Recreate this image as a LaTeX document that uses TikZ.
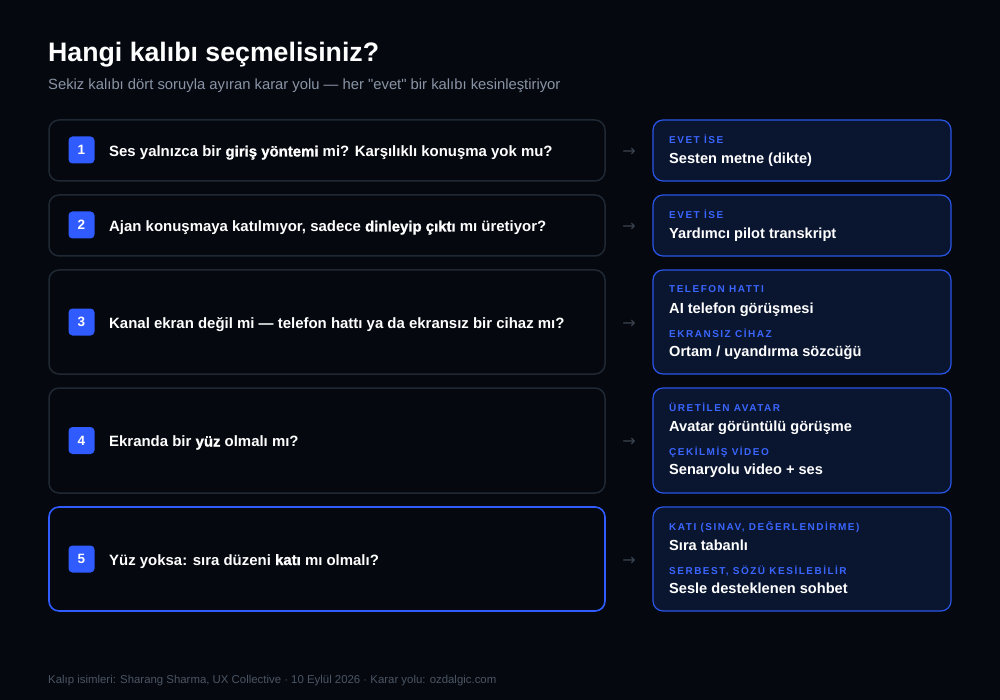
\documentclass[tikz,border=0pt]{standalone}
\usepackage{fontspec}
\setmainfont{Liberation Sans}[Ligatures=TeXOff]
\newfontfamily\heavy{Liberation Sans}[UprightFont={* Bold},FakeBold=1.3]
\newfontfamily\lbl{Liberation Sans}[UprightFont={* Bold},LetterSpace=15]
\newfontfamily\arrowfont{DejaVu Sans}
\definecolor{bg}{HTML}{05090F}
\definecolor{qborder}{HTML}{1F2833}
\definecolor{blue}{HTML}{2F5BFF}
\definecolor{rfill}{HTML}{0A1530}
\definecolor{rborder}{HTML}{2A55E8}
\definecolor{lblc}{HTML}{3A66FF}
\definecolor{subc}{HTML}{8A94A6}
\definecolor{footc}{HTML}{4B5563}
\definecolor{arrc}{HTML}{3A4350}
\tikzset{
  qbox/.style={draw=qborder,line width=1.5pt,fill=bg,rounded corners=10pt},
  qboxhi/.style={draw=blue,line width=1.6pt,fill=bg,rounded corners=10pt},
  rbox/.style={draw=rborder,line width=1.2pt,fill=rfill,rounded corners=10pt},
  badge/.style={fill=blue,rounded corners=4pt,minimum width=26pt,minimum height=27pt,inner sep=0pt,text=white,font=\bfseries\fontsize{13.5}{13.5}\selectfont},
  qtext/.style={anchor=base west,inner sep=0pt,text=white,font=\bfseries\fontsize{14.95}{16}\selectfont},
  ltext/.style={anchor=base west,inner sep=0pt,text=lblc,font=\lbl\fontsize{10}{10}\selectfont},
  mtext/.style={anchor=base west,inner sep=0pt,text=white,font=\bfseries\fontsize{14.6}{16}\selectfont},
  arr/.style={inner sep=0pt,text=arrc,font=\arrowfont\fontsize{16}{16}\selectfont}
}
\newcommand{\hv}[1]{{\heavy #1}}
\begin{document}
\begin{tikzpicture}[x=1pt,y=-1pt]
\fill[bg] (0,0) rectangle (1000,700);
\useasboundingbox (0,0) rectangle (1000,700);
% title
\node[anchor=base west,inner sep=0pt,text=white,font=\bfseries\fontsize{26.7}{28}\selectfont] (title) at (48,62) {Hangi kalıbı seçmelisiniz?};
\node[anchor=base west,inner sep=0pt,text=subc,font=\fontsize{14.8}{16}\selectfont] (sub) at (48,90) {Sekiz kalıbı dört soruyla ayıran karar yolu — her "evet" bir kalıbı kesinleştiriyor};
% question boxes
\path[qbox] (49,120) rectangle (605,181);
\path[qbox] (49,195) rectangle (605,256);
\path[qbox] (49,270) rectangle (605,374);
\path[qbox] (49,388) rectangle (605,493);
\path[qboxhi] (49,507) rectangle (605,611);
% answer boxes
\path[rbox] (653,120) rectangle (951,181);
\path[rbox] (653,195) rectangle (951,256);
\path[rbox] (653,270) rectangle (951,374);
\path[rbox] (653,388) rectangle (951,493);
\path[rbox] (653,507) rectangle (951,611);
% badges
\node[badge] (b1) at (81.5,150) {1};
\node[badge] (b2) at (81.5,225) {2};
\node[badge] (b3) at (81.5,322) {3};
\node[badge] (b4) at (81.5,440.5) {4};
\node[badge] (b5) at (81.5,559) {5};
% questions
\node[qtext] (q1) at (109,156.5) {Ses yalnızca bir \hv{giriş yöntemi} mi? Karşılıklı konuşma yok mu?};
\node[qtext] (q2) at (109,231.5) {Ajan konuşmaya katılmıyor, sadece \hv{dinleyip çıktı} mı üretiyor?};
\node[qtext] (q3) at (109,328.5) {Kanal ekran değil mi — telefon hattı ya da ekransız bir cihaz mı?};
\node[qtext] (q4) at (109,446.5) {Ekranda bir \hv{yüz} olmalı mı?};
\node[qtext] (q5) at (109,565) {Yüz yoksa: sıra düzeni \hv{katı} mı olmalı?};
% arrows
\node[arr] (a1) at (629,152) {→};
\node[arr] (a2) at (629,227) {→};
\node[arr] (a3) at (629,324.5) {→};
\node[arr] (a4) at (629,442.5) {→};
\node[arr] (a5) at (629,561) {→};
% answers
\node[ltext] (l1) at (669,143.3) {EVET İSE};
\node[mtext] (m1) at (669,163.5) {Sesten metne (dikte)};
\node[ltext] (l2) at (669,218.3) {EVET İSE};
\node[mtext] (m2) at (669,238.5) {Yardımcı pilot transkript};
\node[ltext] (l3a) at (669,293) {TELEFON HATTI};
\node[mtext] (m3a) at (669,313.3) {AI telefon görüşmesi};
\node[ltext] (l3b) at (669,337.3) {EKRANSIZ CİHAZ};
\node[mtext] (m3b) at (669,356.7) {Ortam / uyandırma sözcüğü};
\node[ltext] (l4a) at (669,411) {ÜRETİLEN AVATAR};
\node[mtext] (m4a) at (669,431) {Avatar görüntülü görüşme};
\node[ltext] (l4b) at (669,455) {ÇEKİLMİŞ VİDEO};
\node[mtext] (m4b) at (669,474.3) {Senaryolu video + ses};
\node[ltext] (l5a) at (669,530) {KATI (SINAV, DEĞERLENDİRME)};
\node[mtext] (m5a) at (669,550) {Sıra tabanlı};
\node[ltext] (l5b) at (669,574) {SERBEST, SÖZÜ KESİLEBİLİR};
\node[mtext] (m5b) at (669,593.3) {Sesle desteklenen sohbet};
% footer
\node[anchor=base west,inner sep=0pt,text=footc,font=\fontsize{11.4}{12}\selectfont] (foot) at (48,683) {Kalıp isimleri: Sharang Sharma, UX Collective · 10 Eylül 2026 · Karar yolu: ozdalgic.com};
\end{tikzpicture}
\end{document}
